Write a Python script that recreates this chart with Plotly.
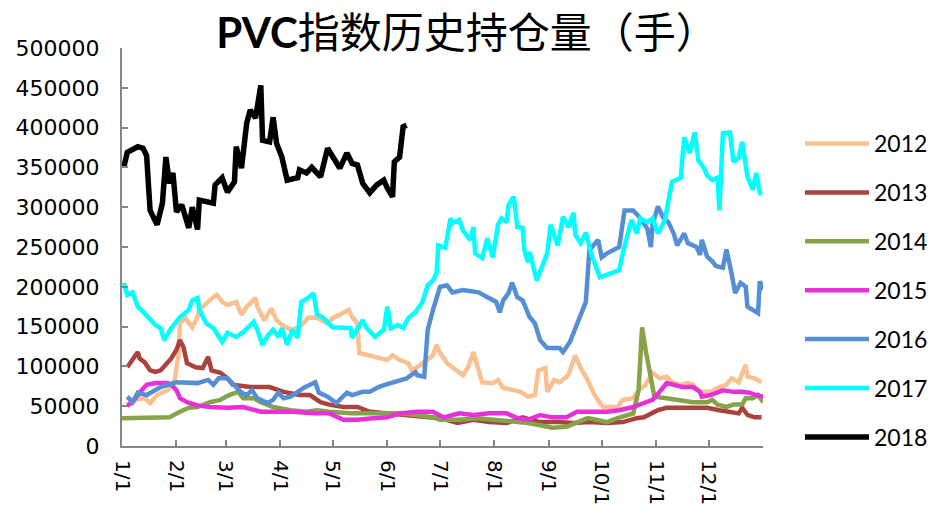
import pandas as pd
import plotly.graph_objects as go

# day offsets from Jan 1 and open-interest values (lots)
d2012 = [3, 6, 13, 16, 20, 26, 30, 32, 33, 36, 40, 43, 44, 48, 52, 54, 57, 60, 65, 68, 71, 76, 77, 81, 85, 88, 91, 96, 101, 106, 111, 117, 120, 124, 129, 131, 134, 135, 141, 147, 151, 154, 158, 163, 165, 168, 172, 177, 179, 181, 185, 191, 194, 197, 200, 203, 205, 211, 214, 217, 222, 227, 231, 235, 237, 241, 242, 246, 249, 254, 258, 261, 265, 269, 272, 274, 282, 285, 291, 294, 298, 302, 306, 310, 314, 318, 322, 325, 329, 335, 340, 344, 347, 351, 355, 356, 360, 364]
v2012 = [49000, 58000, 60000, 54000, 64000, 70000, 83000, 112000, 154000, 161000, 149000, 162000, 171000, 180000, 187000, 190000, 181000, 177000, 181000, 165000, 175000, 186000, 175000, 158000, 173000, 158000, 152000, 146000, 149000, 161000, 161000, 154000, 161000, 165000, 171000, 162000, 154000, 117000, 114000, 110000, 108000, 114000, 108000, 104000, 95000, 99000, 105000, 114000, 127000, 117000, 104000, 93000, 89000, 99000, 118000, 95000, 80000, 79000, 83000, 73000, 70000, 68000, 62000, 64000, 95000, 98000, 68000, 83000, 80000, 89000, 114000, 98000, 83000, 64000, 54000, 49000, 49000, 58000, 60000, 70000, 77000, 92000, 85000, 87000, 79000, 77000, 79000, 77000, 68000, 68000, 74000, 77000, 85000, 80000, 102000, 87000, 85000, 80000]

d2013 = [3, 6, 9, 10, 13, 16, 19, 22, 26, 28, 31, 33, 35, 37, 42, 46, 49, 51, 56, 60, 63, 73, 84, 92, 101, 107, 113, 118, 126, 134, 141, 151, 158, 170, 181, 191, 200, 209, 219, 228, 238, 248, 257, 266, 276, 285, 293, 297, 305, 310, 318, 325, 333, 340, 346, 351, 353, 356, 360, 364]
v2013 = [99000, 108000, 118000, 110000, 105000, 95000, 93000, 95000, 104000, 110000, 121000, 133000, 124000, 104000, 99000, 98000, 112000, 95000, 92000, 85000, 77000, 74000, 74000, 68000, 64000, 64000, 55000, 52000, 49000, 49000, 43000, 41000, 41000, 38000, 35000, 29000, 33000, 30000, 29000, 36000, 30000, 30000, 29000, 30000, 29000, 30000, 35000, 36000, 45000, 48000, 48000, 49000, 48000, 45000, 43000, 41000, 48000, 39000, 36000, 36000]

d2014 = [0, 6, 16, 27, 33, 38, 43, 50, 56, 61, 66, 69, 75, 79, 86, 96, 105, 111, 118, 130, 139, 149, 158, 168, 177, 181, 192, 202, 211, 221, 231, 238, 245, 253, 259, 265, 270, 276, 282, 287, 291, 294, 296, 298, 301, 303, 310, 318, 325, 333, 336, 339, 344, 348, 353, 355, 359, 362, 365]
v2014 = [35000, 35000, 35000, 36000, 43000, 48000, 49000, 55000, 58000, 64000, 68000, 60000, 60000, 55000, 49000, 45000, 43000, 45000, 43000, 41000, 41000, 41000, 41000, 39000, 36000, 33000, 33000, 35000, 33000, 30000, 29000, 26000, 23000, 24000, 30000, 35000, 33000, 30000, 35000, 39000, 41000, 70000, 149000, 121000, 87000, 62000, 60000, 58000, 55000, 55000, 58000, 52000, 49000, 52000, 52000, 60000, 60000, 64000, 55000]

d2015 = [3, 6, 10, 14, 19, 26, 28, 31, 33, 37, 43, 50, 60, 69, 79, 88, 97, 109, 118, 126, 134, 143, 151, 158, 168, 177, 183, 192, 200, 209, 219, 225, 231, 238, 245, 253, 259, 266, 276, 283, 291, 297, 302, 306, 310, 314, 319, 325, 329, 330, 335, 342, 348, 353, 357, 361, 365]
v2015 = [51000, 55000, 67000, 77000, 79000, 79000, 77000, 70000, 60000, 55000, 51000, 49000, 48000, 49000, 43000, 43000, 43000, 41000, 41000, 33000, 33000, 35000, 36000, 41000, 43000, 43000, 36000, 41000, 39000, 41000, 41000, 35000, 33000, 39000, 36000, 36000, 43000, 43000, 43000, 45000, 49000, 54000, 58000, 68000, 79000, 77000, 74000, 74000, 68000, 62000, 64000, 70000, 68000, 68000, 67000, 64000, 62000]

d2016 = [3, 6, 9, 14, 22, 31, 43, 49, 52, 55, 60, 63, 65, 68, 71, 74, 77, 83, 86, 89, 92, 96, 101, 104, 107, 110, 112, 117, 122, 128, 131, 137, 141, 146, 150, 154, 162, 167, 168, 172, 174, 177, 181, 185, 188, 194, 203, 208, 213, 215, 217, 220, 222, 225, 228, 232, 235, 238, 242, 249, 251, 255, 258, 261, 264, 266, 269, 271, 273, 276, 283, 286, 291, 295, 299, 301, 302, 305, 308, 311, 314, 316, 320, 322, 327, 329, 330, 333, 336, 338, 342, 344, 347, 349, 352, 355, 356, 362, 363, 365]
v2016 = [62000, 55000, 67000, 64000, 74000, 80000, 79000, 83000, 77000, 85000, 85000, 79000, 74000, 67000, 64000, 70000, 60000, 54000, 58000, 67000, 60000, 62000, 70000, 74000, 77000, 80000, 67000, 62000, 54000, 67000, 64000, 68000, 68000, 74000, 77000, 80000, 85000, 93000, 89000, 87000, 146000, 171000, 200000, 202000, 193000, 196000, 193000, 187000, 181000, 168000, 183000, 192000, 205000, 187000, 183000, 162000, 154000, 133000, 123000, 123000, 118000, 131000, 149000, 167000, 181000, 246000, 255000, 259000, 237000, 242000, 250000, 296000, 296000, 286000, 273000, 250000, 278000, 301000, 287000, 281000, 267000, 252000, 267000, 255000, 250000, 240000, 259000, 238000, 232000, 226000, 224000, 247000, 216000, 192000, 205000, 200000, 175000, 167000, 207000, 196000]

d2017 = [1, 3, 6, 9, 11, 15, 19, 22, 24, 28, 33, 38, 40, 43, 44, 48, 52, 57, 60, 65, 69, 75, 77, 80, 83, 86, 89, 91, 94, 97, 100, 102, 106, 109, 111, 114, 120, 124, 130, 131, 137, 139, 144, 149, 151, 153, 157, 160, 163, 167, 171, 174, 177, 179, 180, 184, 187, 188, 192, 194, 198, 200, 201, 205, 208, 211, 214, 216, 219, 220, 223, 225, 228, 229, 231, 232, 236, 239, 242, 244, 248, 251, 254, 257, 258, 261, 264, 267, 272, 283, 285, 290, 293, 295, 299, 302, 305, 309, 311, 313, 318, 320, 323, 326, 328, 331, 333, 336, 339, 340, 342, 346, 348, 351, 353, 356, 359, 361, 363, 364]
v2017 = [205000, 190000, 193000, 175000, 171000, 161000, 152000, 148000, 133000, 148000, 162000, 171000, 183000, 186000, 171000, 154000, 148000, 131000, 142000, 137000, 143000, 156000, 146000, 127000, 139000, 146000, 137000, 148000, 127000, 146000, 136000, 181000, 186000, 192000, 165000, 162000, 149000, 149000, 148000, 136000, 158000, 149000, 137000, 146000, 175000, 148000, 152000, 148000, 161000, 168000, 181000, 202000, 208000, 217000, 252000, 249000, 286000, 280000, 284000, 271000, 259000, 275000, 242000, 236000, 261000, 237000, 278000, 286000, 281000, 303000, 313000, 275000, 274000, 246000, 231000, 244000, 208000, 225000, 242000, 278000, 252000, 288000, 275000, 293000, 265000, 255000, 268000, 242000, 212000, 221000, 242000, 284000, 267000, 286000, 281000, 286000, 267000, 284000, 311000, 332000, 337000, 388000, 368000, 394000, 359000, 350000, 340000, 334000, 337000, 296000, 393000, 394000, 357000, 362000, 382000, 338000, 322000, 343000, 318000, 316000]

d2018 = [1, 3, 9, 12, 14, 16, 20, 23, 25, 27, 29, 31, 34, 38, 40, 43, 44, 52, 53, 57, 60, 64, 65, 68, 71, 73, 76, 79, 80, 84, 86, 88, 91, 94, 100, 101, 105, 108, 113, 117, 124, 128, 131, 134, 137, 141, 145, 149, 151, 154, 155, 158, 160, 162]
v2018 = [350000, 369000, 376000, 374000, 365000, 296000, 278000, 305000, 363000, 330000, 343000, 294000, 303000, 274000, 300000, 272000, 309000, 305000, 328000, 337000, 319000, 332000, 376000, 349000, 406000, 422000, 412000, 453000, 384000, 382000, 413000, 380000, 363000, 334000, 337000, 347000, 343000, 350000, 338000, 374000, 349000, 368000, 355000, 353000, 330000, 318000, 328000, 334000, 324000, 313000, 357000, 363000, 401000, 403000]

years = ["2012", "2013", "2014", "2015", "2016", "2017", "2018"]
days = [d2012, d2013, d2014, d2015, d2016, d2017, d2018]
vals = [v2012, v2013, v2014, v2015, v2016, v2017, v2018]
colors = ["#FAC090", "#A8433E", "#87A34A", "#E630D8", "#558ED5", "#00FFFF", "#000000"]
widths = [4.5, 4.5, 4.5, 4.5, 4.5, 4.5, 5.5]
x_ticks_start = "2017-01-01"

base = pd.Timestamp(x_ticks_start)
fig = go.Figure()
for name, d, v, c, w in zip(years, days, vals, colors, widths):
    x = base + pd.to_timedelta(d, unit="D")
    fig.add_trace(go.Scatter(x=x, y=v, mode="lines", name=name, legendgroup=name,
                             line=dict(color=c, width=w)))

axis_col = "#868686"
fig.update_layout(
    width=938, height=516,
    paper_bgcolor="white", plot_bgcolor="white",
    margin=dict(l=114, r=183, t=40, b=78, autoexpand=False),
    title=dict(text="<b>PVC</b>指数历史持仓量（手）", x=0.4893, xref="container", xanchor="center",
               y=0.951, yref="container", yanchor="middle",
               font=dict(family="Lato, 'Noto Sans CJK SC'", size=42, color="black")),
    legend=dict(x=1.0577, y=0.814, xanchor="left", yanchor="top", xref="paper", yref="paper",
                font=dict(family="Lato", size=23, color="black"),
                tracegroupgap=16, itemwidth=64, bgcolor="rgba(0,0,0,0)"),
    showlegend=True,
)
fig.update_xaxes(type="date", range=[x_ticks_start, "2017-12-31 20:00"], tick0=x_ticks_start, dtick="M1",
                 tickformat="%-m/%-d", tickangle=90, ticks="inside", ticklen=6, tickcolor=axis_col,
                 tickwidth=2, showline=True, linecolor=axis_col, linewidth=2, showgrid=False,
                 zeroline=False, tickfont=dict(family="DejaVu Sans", size=20, color="black"),
                 ticklabelstandoff=8)
fig.update_yaxes(range=[0, 500000], dtick=50000, tickformat="d", ticks="inside", ticklen=6,
                 tickcolor=axis_col, tickwidth=2, showline=True, linecolor=axis_col, linewidth=2,
                 showgrid=False, zeroline=False,
                 tickfont=dict(family="DejaVu Sans", size=22, color="black"), ticklabelstandoff=16)

fig.write_html("out.html")
